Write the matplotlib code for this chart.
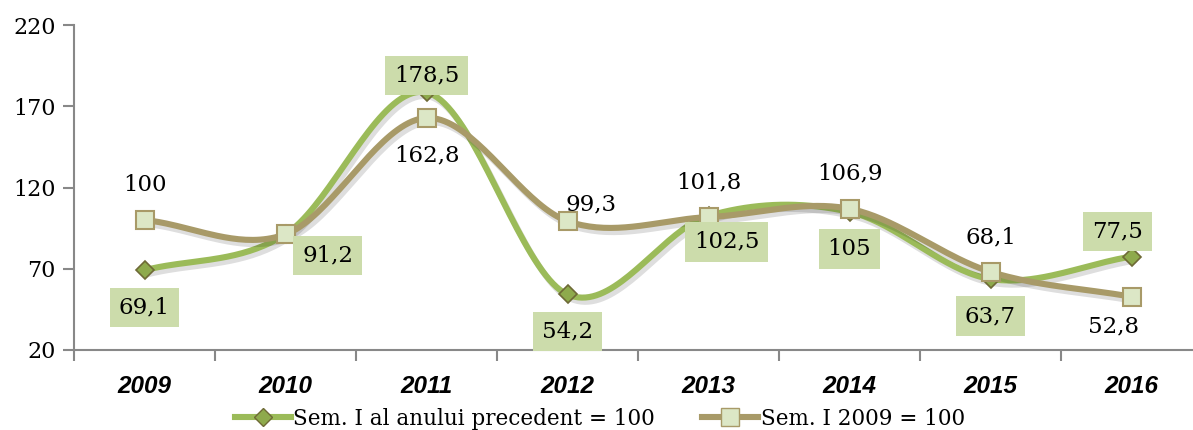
import numpy as np
import matplotlib
matplotlib.use("Agg")
import matplotlib.pyplot as plt
import matplotlib.patheffects as pe

years = ["2009", "2010", "2011", "2012", "2013", "2014", "2015", "2016"]
prev_year = [69.1, 91.2, 178.5, 54.2, 102.5, 105.0, 63.7, 77.5]
base_2009 = [100.0, 91.2, 162.8, 99.3, 101.8, 106.9, 68.1, 52.8]
prev_labels = ["69,1", "91,2", "178,5", "54,2", "102,5", "105", "63,7", "77,5"]
base_labels = ["100", "", "162,8", "99,3", "101,8", "106,9", "68,1", "52,8"]
yticks = [20, 70, 120, 170, 220]

# label offsets in pixels (dx, dy) relative to the point
prev_off = [(0, -37), (42, -21), (0, 17), (0, -37), (18, -26), (0, -37), (0, -37), (-14, 25)]
base_off = [(0, 35), (0, 0), (0, -37), (24, 17), (0, 35), (0, 35), (0, 34), (-18, -30)]

GREEN = "#9BBB59"
TAN = "#A89A68"
BOX = "#CCDCAB"


def smooth(x, y, n=40):
    # catmull-rom style smoothing like excel's smoothed line
    x = np.asarray(x, float)
    y = np.asarray(y, float)
    px = np.concatenate([[2 * x[0] - x[1]], x, [2 * x[-1] - x[-2]]])
    py = np.concatenate([[2 * y[0] - y[1]], y, [2 * y[-1] - y[-2]]])
    xs, ys = [], []
    t = np.linspace(0, 1, n)
    for i in range(1, len(px) - 2):
        p0, p1, p2, p3 = py[i - 1], py[i], py[i + 1], py[i + 2]
        q0, q1, q2, q3 = px[i - 1], px[i], px[i + 1], px[i + 2]
        s = 1 / 6
        b1y, b2y = p1 + (p2 - p0) * s, p2 - (p3 - p1) * s
        b1x, b2x = q1 + (q2 - q0) * s, q2 - (q3 - q1) * s
        ys.append((1 - t) ** 3 * p1 + 3 * (1 - t) ** 2 * t * b1y + 3 * (1 - t) * t ** 2 * b2y + t ** 3 * p2)
        xs.append((1 - t) ** 3 * q1 + 3 * (1 - t) ** 2 * t * b1x + 3 * (1 - t) * t ** 2 * b2x + t ** 3 * q2)
    return np.concatenate(xs), np.concatenate(ys)


fig = plt.figure(figsize=(11.93, 4.30), dpi=100)
ax = fig.add_axes([74 / 1193, 80 / 430, 1128 / 1193, 325 / 430])

x = np.arange(len(years))
shadow = [pe.SimpleLineShadow(offset=(2, -3), shadow_color="black", alpha=0.13), pe.Normal()]

sx, sy = smooth(x, prev_year)
ax.plot(sx, sy, color=GREEN, lw=4.4, solid_capstyle="round", path_effects=shadow, zorder=3)
sx, sy = smooth(x, base_2009)
ax.plot(sx, sy, color=TAN, lw=4.4, solid_capstyle="round", path_effects=shadow, zorder=4)

ax.plot(x, prev_year, ls="none", marker="D", ms=9.5, mfc="#8EAA4C", mec="#6E6A36", mew=1.2, zorder=5)
ax.plot(x, base_2009, ls="none", marker="s", ms=12.5, mfc="#DCE7C6", mec=TAN, mew=1.5, zorder=6)

# legend proxies
ax.plot([], [], color=GREEN, lw=4.4, marker="D", ms=9.5, mfc="#8EAA4C", mec="#6E6A36",
        label="Sem. I al anului precedent = 100")
ax.plot([], [], color=TAN, lw=4.4, marker="s", ms=12.5, mfc="#DCE7C6", mec=TAN,
        label="Sem. I 2009 = 100")

for i in range(len(years)):
    ax.annotate(prev_labels[i], (x[i], prev_year[i]), xytext=prev_off[i], textcoords="offset pixels",
                ha="center", va="center", fontsize=16.5, family="DejaVu Serif", zorder=7,
                bbox=dict(boxstyle="square,pad=0.38", fc=BOX, ec="none"))
    if base_labels[i]:
        ax.annotate(base_labels[i], (x[i], base_2009[i]), xytext=base_off[i], textcoords="offset pixels",
                    ha="center", va="center", fontsize=16.5, family="DejaVu Serif", zorder=7)

ax.set_xlim(-0.5, 7.5)
ax.set_ylim(20, 220)
ax.set_yticks(yticks)
ax.set_yticklabels([str(v) for v in yticks], family="DejaVu Serif", fontsize=16)
ax.set_xticks(x)
ax.set_xticklabels(years, family="Liberation Sans", fontsize=17.5, fontweight="bold", fontstyle="italic")
ax.set_xticks(np.arange(-0.5, 8.0, 1), minor=True)
ax.tick_params(axis="x", which="major", length=0, pad=18)
ax.tick_params(axis="x", which="minor", length=8, color="#888888", width=1.5)
ax.tick_params(axis="y", length=8, color="#888888", width=1.5, pad=5)

for s in ["top", "right"]:
    ax.spines[s].set_visible(False)
for s in ["left", "bottom"]:
    ax.spines[s].set_color("#888888")
    ax.spines[s].set_linewidth(1.5)

fig.legend(loc="center", bbox_to_anchor=(600 / 1193, 11 / 430), ncol=2, frameon=False,
           prop={"family": "DejaVu Serif", "size": 15.5}, handlelength=2.6, columnspacing=2.2,
           handletextpad=0.1)

fig.savefig("out.png", dpi=100)
